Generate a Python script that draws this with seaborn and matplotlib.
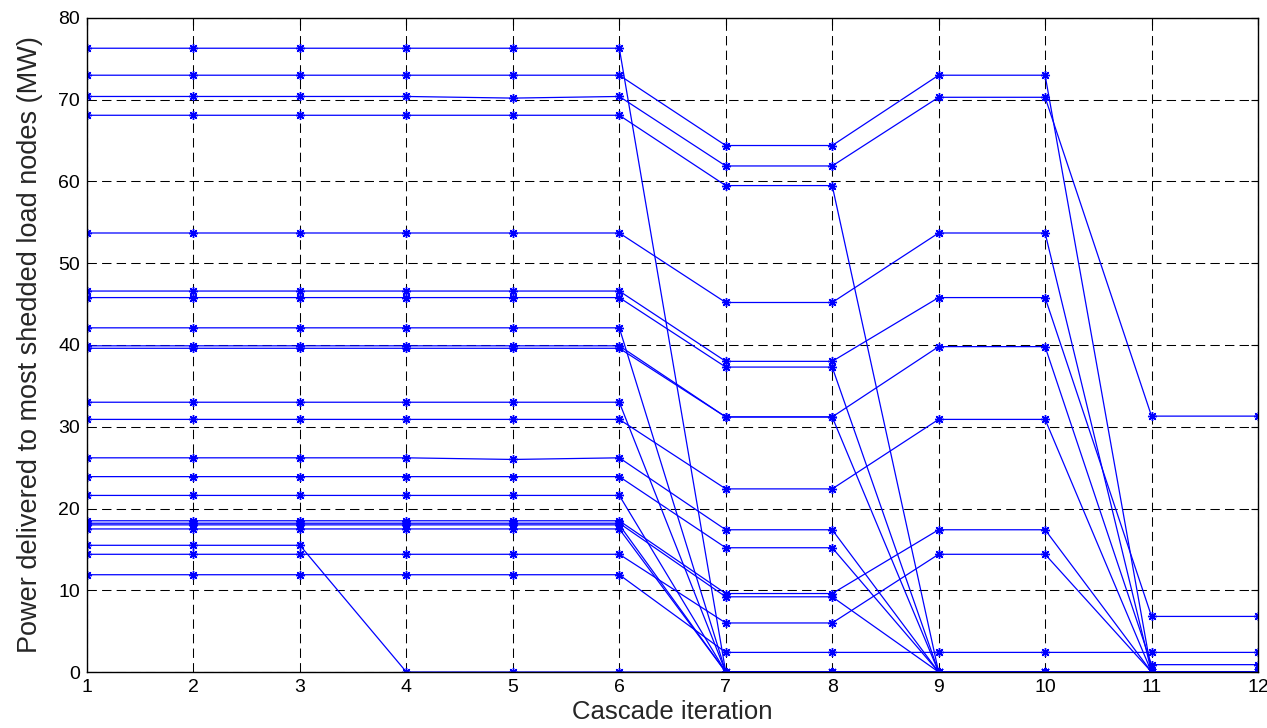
import numpy as np
import pandas as pd
import matplotlib
matplotlib.use("Agg")
import matplotlib.pyplot as plt
import seaborn as sns

iterations = [1, 2, 3, 4, 5, 6, 7, 8, 9, 10, 11, 12]

node_01 = [76.3, 76.3, 76.3, 76.3, 76.3, 76.3, 0, 0, 0, 0, 0, 0]
node_02 = [73.0, 73.0, 73.0, 73.0, 73.0, 73.0, 64.4, 64.4, 73.0, 73.0, 0, 0]
node_03 = [70.4, 70.4, 70.4, 70.4, 70.2, 70.4, 61.9, 61.9, 70.3, 70.3, 31.3, 31.3]
node_04 = [68.1, 68.1, 68.1, 68.1, 68.1, 68.1, 59.5, 59.5, 0, 0, 0, 0]
node_05 = [53.7, 53.7, 53.7, 53.7, 53.7, 53.7, 45.2, 45.2, 53.7, 53.7, 0, 0]
node_06 = [46.6, 46.6, 46.6, 46.6, 46.6, 46.6, 38.0, 38.0, 45.8, 45.8, 6.8, 6.8]
node_07 = [45.8, 45.8, 45.8, 45.8, 45.8, 45.8, 37.3, 37.3, 0, 0, 0, 0]
node_08 = [42.1, 42.1, 42.1, 42.1, 42.1, 42.1, 0, 0, 0, 0, 0, 0]
node_09 = [39.9, 39.9, 39.9, 39.9, 39.9, 39.9, 31.2, 31.2, 39.8, 39.8, 0.9, 0.9]
node_10 = [39.6, 39.6, 39.6, 39.6, 39.6, 39.6, 31.2, 31.2, 0, 0, 0, 0]
node_11 = [33.0, 33.0, 33.0, 33.0, 33.0, 33.0, 0, 0, 0, 0, 0, 0]
node_12 = [30.9, 30.9, 30.9, 30.9, 30.9, 30.9, 22.4, 22.4, 30.9, 30.9, 0, 0]
node_13 = [26.2, 26.2, 26.2, 26.2, 26.0, 26.2, 17.4, 17.4, 0, 0, 0, 0]
node_14 = [23.9, 23.9, 23.9, 23.9, 23.9, 23.9, 15.2, 15.2, 0, 0, 0, 0]
node_15 = [21.6, 21.6, 21.6, 21.6, 21.6, 21.6, 0, 0, 0, 0, 0, 0]
node_16 = [18.5, 18.5, 18.5, 18.5, 18.5, 18.5, 9.6, 9.6, 17.4, 17.4, 0, 0]
node_17 = [18.2, 18.2, 18.2, 18.2, 18.2, 18.2, 9.2, 9.2, 0, 0, 0, 0]
node_18 = [18.0, 18.0, 18.0, 18.0, 18.0, 18.0, 0, 0, 0, 0, 0, 0]
node_19 = [17.5, 17.5, 17.5, 17.5, 17.5, 17.5, 0, 0, 0, 0, 0, 0]
node_20 = [15.5, 15.5, 15.5, 0, 0, 0, 0, 0, 0, 0, 0, 0]
node_21 = [14.4, 14.4, 14.4, 14.4, 14.4, 14.4, 6.0, 6.0, 14.4, 14.4, 0, 0]
node_22 = [11.9, 11.9, 11.9, 11.9, 11.9, 11.9, 2.4, 2.4, 2.4, 2.4, 2.4, 2.4]

series = [node_01, node_02, node_03, node_04, node_05, node_06, node_07, node_08,
          node_09, node_10, node_11, node_12, node_13, node_14, node_15, node_16,
          node_17, node_18, node_19, node_20, node_21, node_22]

y_ticks = [0, 10, 20, 30, 40, 50, 60, 70, 80]
x_label = "Cascade iteration"
y_label = "Power delivered to most shedded load nodes (MW)"

rows = []
for i, s in enumerate(series):
    for x, v in zip(iterations, s):
        rows.append({"node": i, "iteration": x, "power": v})
df = pd.DataFrame(rows)

sns.set_style("white")
plt.rcParams["font.family"] = ["Liberation Sans", "DejaVu Sans"]

fig = plt.figure(figsize=(12.67, 7.28), dpi=100)
ax = fig.add_axes([0.0687, 0.0769, 0.9242, 0.8984])

sns.lineplot(data=df, x="iteration", y="power", units="node", estimator=None,
             color="#0000FF", linewidth=0.9, marker=(8, 2, 0), markersize=6.5,
             markeredgecolor="#0000FF", markeredgewidth=1.0, sort=False,
             legend=False, ax=ax)

ax.set_xlim(1, 12)
ax.set_ylim(0, 80)
ax.set_xticks(iterations)
ax.set_yticks(y_ticks)
ax.grid(True, color="black", linestyle=(0, (9, 5)), linewidth=0.75)
ax.set_axisbelow(True)
for sp in ax.spines.values():
    sp.set_visible(True)
    sp.set_color("black")
    sp.set_linewidth(1.0)
ax.tick_params(direction="in", top=True, right=True, length=5, width=0.8,
               labelsize=14, colors="black", pad=5)
ax.set_xlabel(x_label, fontsize=18.5, labelpad=3)
ax.set_ylabel(y_label, fontsize=19.5, labelpad=11)

fig.savefig("out.png", dpi=100, facecolor="white")
